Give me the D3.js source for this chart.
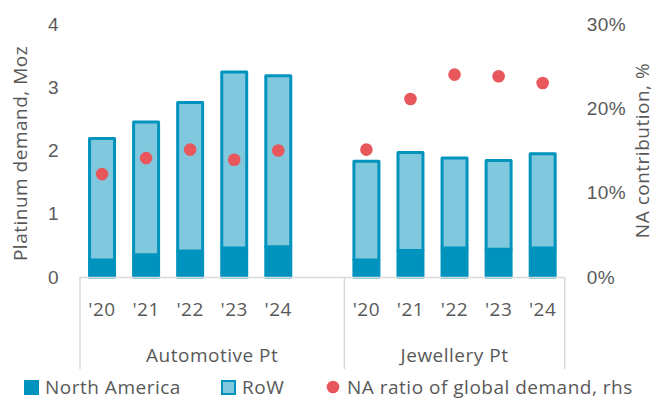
<!DOCTYPE html>
<html>
<head>
<meta charset="utf-8">
<script src="https://cdn.jsdelivr.net/npm/d3@7"></script>
<style>
  html, body { margin: 0; padding: 0; background: #fff; }
  svg { display: block; font-family: "Open Sans", "Noto Sans", sans-serif; }
  svg text { letter-spacing: 0.5px; }
</style>
</head>
<body>
<svg id="chart" width="654" height="399"></svg>
<script>
// Platinum demand by segment: North America vs rest of world, Moz
const years = ["'20", "'21", "'22", "'23", "'24"];
const groups = ["Automotive Pt", "Jewellery Pt"];

const autoNorthAmerica = [0.27, 0.35, 0.41, 0.46, 0.48];
const autoTotal        = [2.19, 2.45, 2.76, 3.24, 3.18];
const jewelNorthAmerica = [0.27, 0.42, 0.46, 0.44, 0.46];
const jewelTotal        = [1.83, 1.97, 1.88, 1.84, 1.95];

// NA share of global demand, % (right axis)
const autoRatio  = [12.2, 14.1, 15.1, 13.9, 15.0];
const jewelRatio = [15.1, 21.1, 24.0, 23.8, 23.0];

const leftTicks = [0, 1, 2, 3, 4];
const rightTicks = [0, 10, 20, 30];

const colors = { na: "#0093bd", row: "#80c8de", ratio: "#e8575c", text: "#595959", axis: "#d9d9d9" };
const fontSize = 19;

// Build rows; the automotive group carries one trailing empty slot
const rows = [];
years.forEach((y, i) => rows.push({ key: "a" + i, group: 0, year: y,
  na: autoNorthAmerica[i], row: +(autoTotal[i] - autoNorthAmerica[i]).toFixed(2), ratio: autoRatio[i] }));
rows.push({ key: "gap", group: 0, year: "", na: null });
years.forEach((y, i) => rows.push({ key: "j" + i, group: 1, year: y,
  na: jewelNorthAmerica[i], row: +(jewelTotal[i] - jewelNorthAmerica[i]).toFixed(2), ratio: jewelRatio[i] }));

const svg = d3.select("#chart");
const plot = { left: 80, right: 564.7, top: 24, bottom: 277 };

const x = d3.scaleBand()
  .domain(rows.map(d => d.key))
  .range([plot.left, plot.right])
  .paddingInner(0.433)
  .paddingOuter(0.2165);

const yL = d3.scaleLinear().domain([0, 4]).range([plot.bottom, plot.top]);
const yR = d3.scaleLinear().domain([0, 30]).range([plot.bottom, plot.top]);

const bars = rows.filter(d => d.na !== null);
const stack = d3.stack().keys(["na", "row"])(bars);

// Stacked bars
const strokeW = 3;
svg.append("g").selectAll("g")
  .data(stack)
  .join("g")
  .attr("fill", (s, i) => i === 0 ? colors.na : colors.row)
  .selectAll("rect")
  .data(s => s)
  .join("rect")
  .attr("x", d => x(d.data.key))
  .attr("width", x.bandwidth())
  .attr("y", d => yL(d[1]))
  .attr("height", d => yL(d[0]) - yL(d[1]))
  .attr("stroke", colors.na)
  .attr("stroke-width", strokeW)
  .attr("stroke-linejoin", "round");

// Ratio markers
svg.append("g").selectAll("circle")
  .data(bars)
  .join("circle")
  .attr("cx", d => x(d.key) + x.bandwidth() / 2)
  .attr("cy", d => yR(d.ratio))
  .attr("r", 6.3)
  .attr("fill", colors.ratio);

// Category axis: baseline and group separators
const axisG = svg.append("g").attr("stroke", colors.axis).attr("stroke-width", 1.5);
axisG.append("line")
  .attr("x1", plot.left).attr("x2", plot.right)
  .attr("y1", plot.bottom + 0.5).attr("y2", plot.bottom + 0.5);

const step = x.step();
const groupEdges = [plot.left, x("gap") - x.paddingInner() * step / 2 + step, plot.right];
axisG.selectAll(".sep")
  .data(groupEdges)
  .join("line")
  .attr("x1", d => d).attr("x2", d => d)
  .attr("y1", plot.bottom).attr("y2", 369);

// Year labels
svg.append("g").selectAll("text")
  .data(bars)
  .join("text")
  .attr("x", d => x(d.key) + x.bandwidth() / 2)
  .attr("y", 309)
  .attr("dy", "0.35em")
  .attr("text-anchor", "middle")
  .attr("font-size", fontSize)
  .attr("fill", colors.text)
  .text(d => d.year);

// Group labels
svg.append("g").selectAll("text")
  .data(groups)
  .join("text")
  .attr("x", (g, i) => (groupEdges[i] + groupEdges[i + 1]) / 2)
  .attr("y", 355)
  .attr("dy", "0.35em")
  .attr("text-anchor", "middle")
  .attr("font-size", fontSize)
  .attr("fill", colors.text)
  .text(g => g);

// Left value axis
const leftAxis = svg.append("g")
  .attr("transform", `translate(${plot.left - 21},0)`)
  .call(d3.axisLeft(yL).tickValues(leftTicks).tickSize(0).tickPadding(0).tickFormat(d3.format("d")));
leftAxis.select(".domain").remove();
leftAxis.selectAll("text").attr("font-size", fontSize).attr("fill", colors.text).attr("font-family", null);

// Right value axis
const rightAxis = svg.append("g")
  .attr("transform", `translate(${plot.right + 22},0)`)
  .call(d3.axisRight(yR).tickValues(rightTicks).tickSize(0).tickPadding(0).tickFormat(d => d + "%"));
rightAxis.select(".domain").remove();
rightAxis.selectAll("text").attr("font-size", fontSize).attr("fill", colors.text).attr("font-family", null);

// Axis titles
svg.append("text")
  .attr("transform", `translate(20,${(plot.top + plot.bottom) / 2 + 3}) rotate(-90)`)
  .attr("text-anchor", "middle")
  .attr("dy", "0.35em")
  .attr("font-size", fontSize)
  .attr("fill", colors.text)
  .text("Platinum demand, Moz");

svg.append("text")
  .attr("transform", `translate(642,${(plot.top + plot.bottom) / 2}) rotate(-90)`)
  .attr("text-anchor", "middle")
  .attr("dy", "0.35em")
  .attr("font-size", fontSize)
  .attr("fill", colors.text)
  .text("NA contribution, %");

// Legend
const legend = svg.append("g").attr("font-size", fontSize).attr("fill", colors.text);
const items = [
  { label: "North America", x: 24, type: "na" },
  { label: "RoW", x: 221, type: "row" },
  { label: "NA ratio of global demand, rhs", x: 326, type: "ratio" }
];
items.forEach(it => {
  if (it.type === "ratio") {
    legend.append("circle").attr("cx", it.x + 7).attr("cy", 387).attr("r", 6.3).attr("fill", colors.ratio);
  } else {
    legend.append("rect")
      .attr("x", it.x + 1).attr("y", 381).attr("width", 13).attr("height", 13)
      .attr("fill", it.type === "na" ? colors.na : colors.row)
      .attr("stroke", colors.na).attr("stroke-width", 2);
  }
  legend.append("text")
    .attr("x", it.x + 21)
    .attr("y", 387)
    .attr("dy", "0.35em")
    .text(it.label);
});
</script>
</body>
</html>
